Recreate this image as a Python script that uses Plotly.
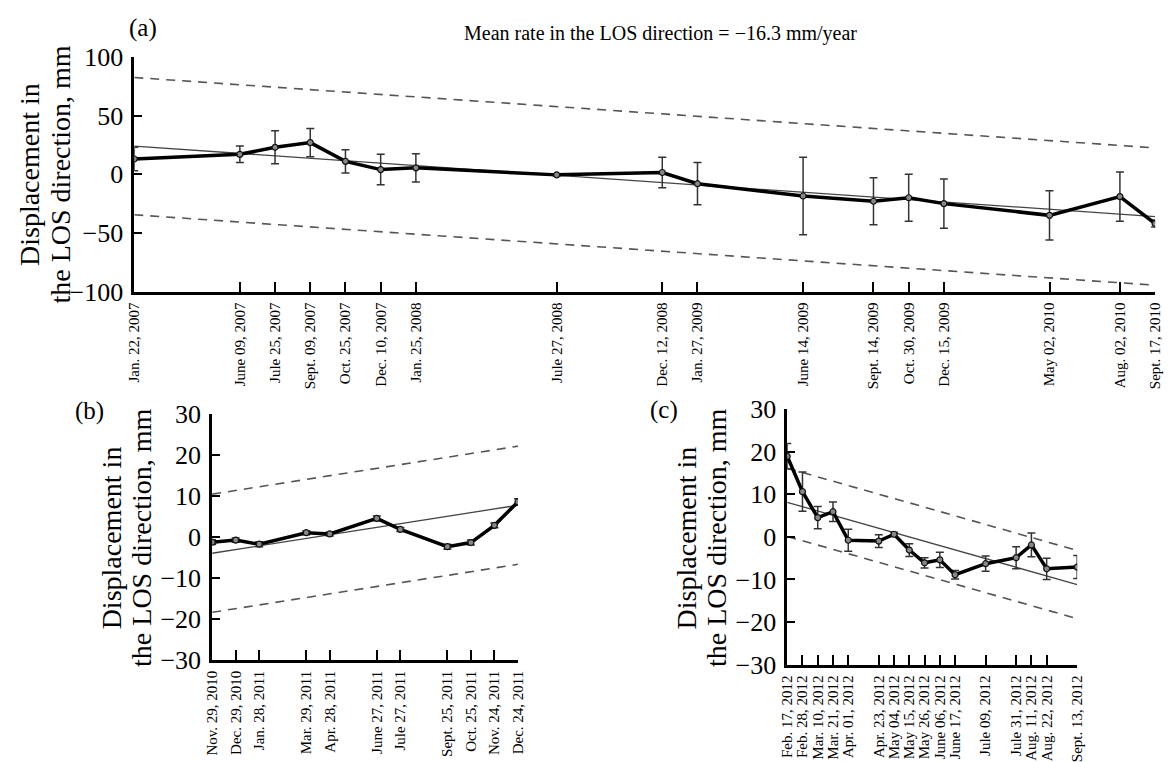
import plotly.graph_objects as go

FONT = "Liberation Serif"

# ---------------- Panel (a) ----------------
a_dates = ["2007-01-22", "2007-06-09", "2007-07-25", "2007-09-09", "2007-10-25", "2007-12-10",
           "2008-01-25", "2008-07-27", "2008-12-12", "2009-01-27", "2009-06-14", "2009-09-14",
           "2009-10-30", "2009-12-15", "2010-05-02", "2010-08-02", "2010-09-17"]
a_disp = [13, 17, 23, 27, 11, 4, 5.5, -0.5, 1.5, -8, -18.5, -23, -20, -25, -35, -19, -42]
a_err = [10, 7, 14, 12, 10, 13, 12, 1, 13, 18, 33, 20, 20, 21, 21, 21, 3]
a_labels = ["Jan. 22, 2007", "June 09, 2007", "Jule 25, 2007", "Sept. 09, 2007", "Oct. 25, 2007",
            "Dec. 10, 2007", "Jan. 25, 2008", "Jule 27, 2008", "Dec. 12, 2008", "Jan. 27, 2009",
            "June 14, 2009", "Sept. 14, 2009", "Oct. 30, 2009", "Dec. 15, 2009", "May 02, 2010",
            "Aug. 02, 2010", "Sept. 17, 2010"]
a_trend = [24, -36]
a_upper = [82.5, 22.5]
a_lower = [-34.5, -94.5]

# ---------------- Panel (b) ----------------
b_dates = ["2010-11-29", "2010-12-29", "2011-01-28", "2011-03-29", "2011-04-28", "2011-06-27",
           "2011-07-27", "2011-09-25", "2011-10-25", "2011-11-24", "2011-12-24"]
b_disp = [-1.3, -0.8, -1.8, 1.0, 0.7, 4.5, 1.8, -2.4, -1.4, 2.8, 8.5]
b_err = [0.6, 0.5, 0.6, 0.5, 0.5, 0.6, 0.5, 0.6, 0.6, 0.6, 0.8]
b_labels = ["Nov. 29, 2010", "Dec. 29, 2010", "Jan. 28, 2011", "Mar. 29, 2011", "Apr. 28, 2011",
            "June 27, 2011", "Jule 27, 2011", "Sept. 25, 2011", "Oct. 25, 2011", "Nov. 24, 2011",
            "Dec. 24, 2011"]
b_trend = [-4.0, 7.7]
b_upper = [10.4, 22.1]
b_lower = [-18.4, -6.7]

# ---------------- Panel (c) ----------------
c_dates = ["2012-02-17", "2012-02-28", "2012-03-10", "2012-03-21", "2012-04-01", "2012-04-23",
           "2012-05-04", "2012-05-15", "2012-05-26", "2012-06-06", "2012-06-17", "2012-07-09",
           "2012-07-31", "2012-08-11", "2012-08-22", "2012-09-13"]
c_disp = [18.9, 10.6, 4.5, 5.9, -0.8, -1.0, 0.6, -3.1, -6.1, -5.4, -8.9, -6.3, -4.9, -1.9, -7.5, -7.1]
c_err = [3.0, 4.6, 2.6, 2.3, 2.6, 1.5, 0.5, 1.5, 1.2, 1.8, 1.0, 1.8, 2.6, 2.8, 2.5, 2.7]
c_labels = ["Feb. 17, 2012", "Feb. 28, 2012", "Mar. 10, 2012", "Mar. 21, 2012", "Apr. 01, 2012",
            "Apr. 23, 2012", "May 04, 2012", "May 15, 2012", "May 26, 2012", "June 06, 2012",
            "June 17, 2012", "Jule 09, 2012", "Jule 31, 2012", "Aug. 11, 2012", "Aug. 22, 2012",
            "Sept. 13, 2012"]
c_trend = [8.1, -11.2]
c_upper = [16.1, -3.2]
c_lower = [0.1, -19.2]

y_title_1 = "Displacement in"
y_title_2 = "the LOS direction, mm"
rate_text = "Mean rate in the LOS direction = \u221216.3 mm/year"

W, H = 1171, 762


def px_x(p):
    return p / W


def px_y(p):
    return 1 - p / H


fig = go.Figure()

panels = [
    ("x", "y", a_dates, a_disp, a_err, a_trend, a_upper, a_lower),
    ("x2", "y2", b_dates, b_disp, b_err, b_trend, b_upper, b_lower),
    ("x3", "y3", c_dates, c_disp, c_err, c_trend, c_upper, c_lower),
]

for xa, ya, dates, disp, err, trend, upper, lower in panels:
    ends = [dates[0], dates[-1]]
    for band in (upper, lower):
        fig.add_trace(go.Scatter(x=ends, y=band, mode="lines", xaxis=xa, yaxis=ya,
                                 line=dict(color="#555555", width=1.6, dash="9px,7px"),
                                 showlegend=False, hoverinfo="skip"))
    fig.add_trace(go.Scatter(x=ends, y=trend, mode="lines", xaxis=xa, yaxis=ya,
                             line=dict(color="#444444", width=1.3),
                             showlegend=False, hoverinfo="skip"))
    fig.add_trace(go.Scatter(x=dates, y=disp, mode="lines+markers", xaxis=xa, yaxis=ya,
                             line=dict(color="black", width=3.5),
                             marker=dict(symbol="circle", size=6, color="#888888",
                                         line=dict(color="#111111", width=1.2)),
                             error_y=dict(type="data", array=err, visible=True,
                                          color="#333333", thickness=1.5, width=4),
                             showlegend=False))


def xaxis_cfg(dom, dates, labels, anchor):
    return dict(domain=dom, anchor=anchor, type="date",
                range=[dates[0], dates[-1]],
                tickmode="array", tickvals=dates, ticktext=labels, tickangle=-90,
                ticks="inside", ticklen=10, tickwidth=2.2, tickcolor="black",
                showline=True, linewidth=2.7, linecolor="black",
                showgrid=False, zeroline=False, ticklabelstandoff=2,
                tickfont=dict(family=FONT, size=15, color="black"))


def yaxis_cfg(dom, rng, vals, anchor):
    return dict(domain=dom, anchor=anchor, range=rng,
                tickmode="array", tickvals=vals,
                ticks="inside", ticklen=8, tickwidth=2.2, tickcolor="black",
                showline=True, linewidth=2.7, linecolor="black",
                showgrid=False, zeroline=False, ticklabelstandoff=3,
                tickfont=dict(family=FONT, size=26, color="black"))


layout = dict(
    width=W, height=H, autosize=False,
    margin=dict(l=0, r=0, t=0, b=0),
    paper_bgcolor="white", plot_bgcolor="white",
    font=dict(family=FONT, color="black"),
    xaxis=xaxis_cfg([px_x(128), px_x(1163)], a_dates, a_labels, "y"),
    yaxis=yaxis_cfg([px_y(291), px_y(45)], [-100, 100], [-100, -50, 0, 50, 100], "x"),
    xaxis2=xaxis_cfg([px_x(207), px_x(517)], b_dates, b_labels, "y2"),
    yaxis2=yaxis_cfg([px_y(677), px_y(419)], [-30, 30], [-30, -20, -10, 0, 10, 20, 30], "x2"),
    xaxis3=xaxis_cfg([px_x(790), px_x(1084)], c_dates, c_labels, "y3"),
    yaxis3=yaxis_cfg([px_y(682), px_y(414)], [-30, 30], [-30, -20, -10, 0, 10, 20, 30], "x3"),
)
fig.update_layout(**layout)

annots = [
    (137, 15, "(a)", 25, 0),
    (83, 416, "(b)", 25, 0),
    (665, 415, "(c)", 25, 0),
    (662, 20, rate_text, 20, 0),
    (22, 168, y_title_1, 28, -90),
    (53, 168, y_title_2, 28, -90),
    (105, 549, y_title_1, 28, -90),
    (136, 549, y_title_2, 28, -90),
    (688, 549, y_title_1, 28, -90),
    (719, 549, y_title_2, 28, -90),
]
for x, y, t, s, ang in annots:
    fig.add_annotation(x=px_x(x), y=px_y(y), xref="paper", yref="paper", text=t,
                       showarrow=False, textangle=ang, xanchor="center", yanchor="middle",
                       font=dict(family=FONT, size=s, color="black"))

fig.write_html("out.html")
